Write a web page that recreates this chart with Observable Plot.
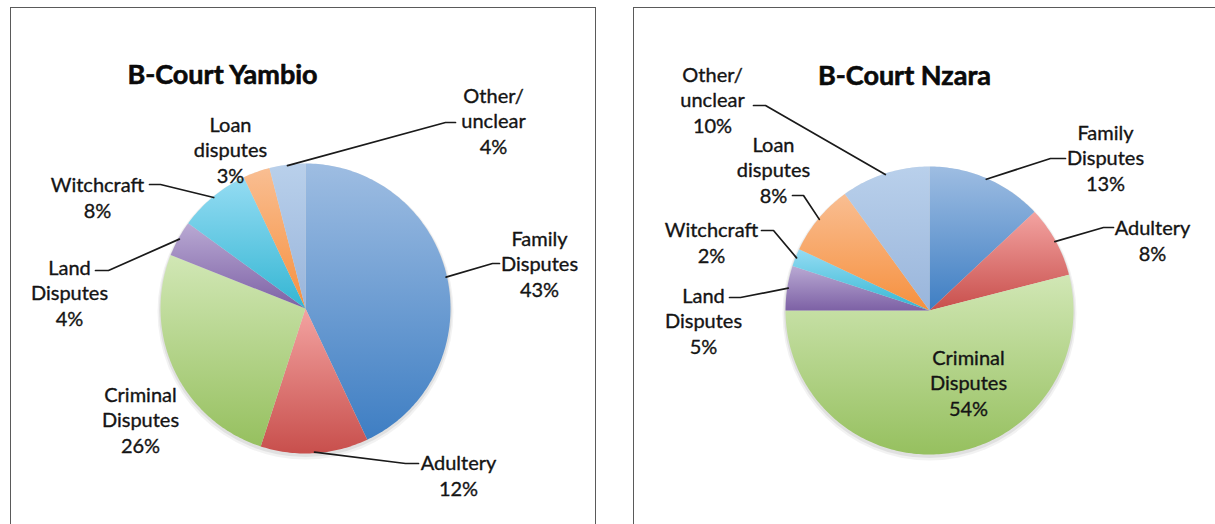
<!DOCTYPE html>
<html><head><meta charset="utf-8">
<script src="https://cdn.jsdelivr.net/npm/d3@7"></script>
<script src="https://cdn.jsdelivr.net/npm/@observablehq/plot@0.6"></script>
<style>
html,body{margin:0;padding:0;background:#fff;}
#wrap{position:relative;width:1215px;height:524px;overflow:hidden;}
.box{position:absolute;border:1.5px solid #5a5a5a;}
#chart{position:absolute;left:0;top:0;}
</style></head><body>
<div id="wrap">
<div class="box" style="left:10px;top:7px;width:584px;height:560px"></div>
<div class="box" style="left:633px;top:7px;width:640px;height:560px"></div>
<div id="chart"></div>
</div>
<svg width="0" height="0" style="position:absolute"><defs id="grads"></defs></svg>
<script>
// ---- data ----
const categories = ["Family Disputes", "Adultery", "Criminal Disputes", "Land Disputes", "Witchcraft", "Loan disputes", "Other/ unclear"];
const labelLines = [["Family", "Disputes"], ["Adultery"], ["Criminal", "Disputes"], ["Land", "Disputes"], ["Witchcraft"], ["Loan", "disputes"], ["Other/", "unclear"]];
const yambioValues = [43, 12, 26, 4, 8, 3, 4];
const nzaraValues = [13, 8, 54, 5, 2, 8, 10];
const titles = ["B-Court Yambio", "B-Court Nzara"];
const colorsTop = ["#9ebde2", "#f3a3a1", "#d1e7b5", "#b9a9d3", "#95dcf3", "#f9be92", "#b9d0eb"];
const colorsBottom = ["#3e7ec3", "#c84f4c", "#96c05f", "#7d61a5", "#34b6d3", "#f6903e", "#99b5db"];

// ---- layout (pixels) ----
const layouts = [
  {cx: 305, cy: 308, r: 145, titleX: 222, titleY: 83,
   labels: [
     {x: 539, y: 296, lead: [[492, 263], [499, 263]]},
     {x: 458, y: 495, lead: [[405, 463], [418, 463]]},
     {x: 140, y: 452, lead: null},
     {x: 69, y: 325, lead: [[108, 270], [95, 270]]},
     {x: 97, y: 217, lead: [[160, 184], [149, 184]]},
     {x: 230, y: 182, lead: null},
     {x: 493, y: 153, lead: [[445, 122], [455, 122]]}
   ]},
  {cx: 929, cy: 310, r: 144, titleX: 904, titleY: 84,
   labels: [
     {x: 1105, y: 190, lead: [[1050, 158], [1065, 158]]},
     {x: 1152, y: 260, lead: [[1103, 227], [1113, 227]]},
     {x: 968, y: 415, lead: null},
     {x: 703, y: 353, lead: [[740, 297], [729, 297]]},
     {x: 711, y: 262, lead: [[773, 230], [761, 230]]},
     {x: 773, y: 202, lead: [[803, 195], [792, 195]]},
     {x: 712, y: 132, lead: [[765, 105], [753, 105]]}
   ]}
];

// gradients
const defs = d3.select("#grads");
categories.forEach((c, i) => {
  const g = defs.append("linearGradient").attr("id", "g" + i).attr("x1", 0).attr("y1", 0).attr("x2", 0).attr("y2", 1);
  g.append("stop").attr("offset", "0%").attr("stop-color", colorsTop[i]);
  g.append("stop").attr("offset", "100%").attr("stop-color", colorsBottom[i]);
});

function slices(values, L) {
  const total = d3.sum(values);
  let acc = 0;
  return values.map((v, i) => {
    const a0 = acc / total * 2 * Math.PI; acc += v;
    const a1 = acc / total * 2 * Math.PI;
    const pts = [[L.cx, L.cy]];
    const n = Math.max(2, Math.ceil((a1 - a0) / (Math.PI / 180)));
    for (let k = 0; k <= n; k++) {
      const a = a0 + (a1 - a0) * k / n;
      pts.push([L.cx + L.r * Math.sin(a), L.cy - L.r * Math.cos(a)]);
    }
    return {i, v, pts, mid: (a0 + a1) / 2};
  });
}

const marks = [];
[yambioValues, nzaraValues].forEach((values, ci) => {
  const L = layouts[ci];
  const S = slices(values, L);
  marks.push(Plot.dot([[L.cx, L.cy + 3]], {x: d => d[0], y: d => d[1], r: L.r + 3, fill: "#000", fillOpacity: 0.05, stroke: "none"}));
  marks.push(Plot.dot([[L.cx, L.cy + 2]], {x: d => d[0], y: d => d[1], r: L.r + 1.5, fill: "#000", fillOpacity: 0.07, stroke: "none"}));
  S.forEach(s => {
    marks.push(Plot.line(s.pts, {x: d => d[0], y: d => d[1], fill: `url(#g${s.i})`, stroke: "none", curve: "linear"}));
  });
  S.forEach(s => {
    const lab = L.labels[s.i];
    if (!lab.lead) return;
    const e = [L.cx + (L.r - 1) * Math.sin(s.mid), L.cy - (L.r - 1) * Math.cos(s.mid)];
    marks.push(Plot.line([e, ...lab.lead], {x: d => d[0], y: d => d[1], stroke: "#1a1a1a", strokeWidth: 1.7}));
  });
  const textRows = S.map(s => ({x: L.labels[s.i].x, y: L.labels[s.i].y, t: labelLines[s.i].join("\n") + "\n" + s.v + "%"}));
  marks.push(Plot.text(textRows, {x: "x", y: "y", text: "t", lineAnchor: "bottom", lineHeight: 1.27, fontSize: 20, fill: "#141414", stroke: "#141414", strokeWidth: 0.35, textAnchor: "middle"}));
  marks.push(Plot.text([titles[ci]], {x: L.titleX, y: L.titleY, text: d => d, lineAnchor: "bottom", fontSize: 27, fontWeight: "bold", fill: "#0a0a0a", stroke: "#0a0a0a", strokeWidth: 0.6, textAnchor: "middle"}));
});

const chart = Plot.plot({
  width: 1215, height: 524, margin: 0,
  x: {type: "identity", axis: null},
  y: {type: "identity", axis: null},
  style: {background: "transparent", fontFamily: "Lato, 'Open Sans', sans-serif", overflow: "visible"},
  marks
});
document.getElementById("chart").appendChild(chart);
</script>
</body></html>
